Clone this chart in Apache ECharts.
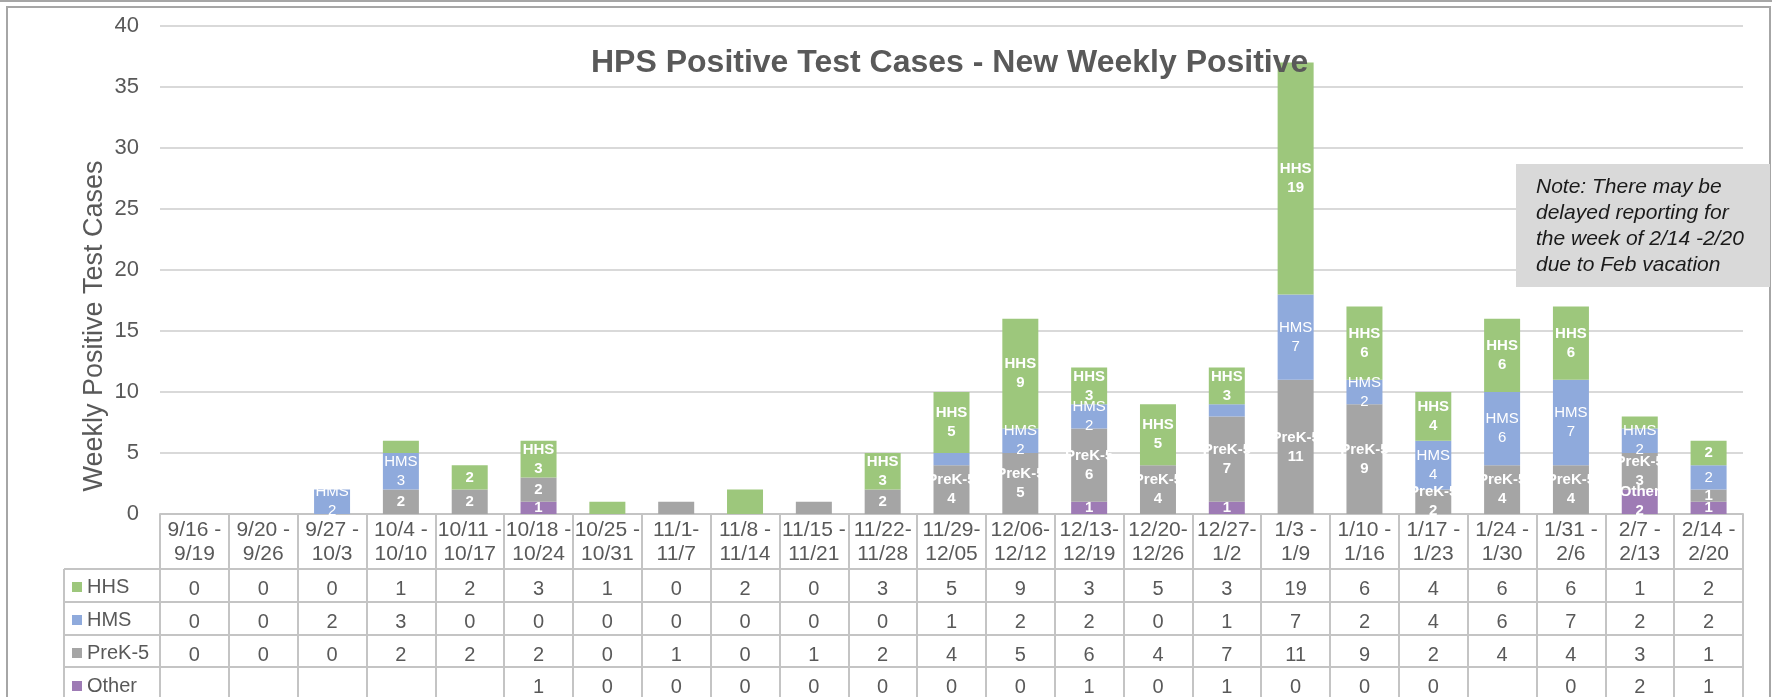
<!DOCTYPE html>
<html>
<head>
<meta charset="utf-8">
<title>HPS Positive Test Cases</title>
<script src="https://cdn.jsdelivr.net/npm/echarts@6/dist/echarts.min.js"></script>
<style>
  html, body { margin: 0; padding: 0; background: #fff; }
  #chart { width: 1781px; height: 697px; }
</style>
</head>
<body>
<div id="chart"></div>
<script>
const weeks = [
  '9/16 -\n9/19', '9/20 -\n9/26', '9/27 -\n10/3', '10/4 -\n10/10', '10/11 -\n10/17',
  '10/18 -\n10/24', '10/25 -\n10/31', '11/1-\n11/7', '11/8 -\n11/14', '11/15 -\n11/21',
  '11/22-\n11/28', '11/29-\n12/05', '12/06-\n12/12', '12/13-\n12/19', '12/20-\n12/26',
  '12/27-\n1/2', '1/3 -\n1/9', '1/10 -\n1/16', '1/17 -\n1/23', '1/24 -\n1/30',
  '1/31 -\n2/6', '2/7 -\n2/13', '2/14 -\n2/20'
];
const hhs   = [0, 0, 0, 1, 2, 3, 1, 0, 2, 0, 3, 5, 9, 3, 5, 3, 19, 6, 4, 6, 6, 1, 2];
const hms   = [0, 0, 2, 3, 0, 0, 0, 0, 0, 0, 0, 1, 2, 2, 0, 1, 7, 2, 4, 6, 7, 2, 2];
const prek  = [0, 0, 0, 2, 2, 2, 0, 1, 0, 1, 2, 4, 5, 6, 4, 7, 11, 9, 2, 4, 4, 3, 1];
const other = [null, null, null, null, null, 1, 0, 0, 0, 0, 0, 0, 0, 1, 0, 1, 0, 0, 0, null, 0, 2, 1];

// which bar segments carry a label: 0 none, 1 value only, 2 series name + value
const hhsTags   = [0, 0, 0, 0, 1, 2, 0, 0, 0, 0, 2, 2, 2, 2, 2, 2, 2, 2, 2, 2, 2, 0, 1];
const hmsTags   = [0, 0, 2, 2, 0, 0, 0, 0, 0, 0, 0, 0, 2, 2, 0, 0, 2, 2, 2, 2, 2, 2, 1];
const prekTags  = [0, 0, 0, 1, 1, 1, 0, 0, 0, 0, 1, 2, 2, 2, 2, 2, 2, 2, 2, 2, 2, 2, 1];
const otherTags = [0, 0, 0, 0, 0, 1, 0, 0, 0, 0, 0, 0, 0, 1, 0, 1, 0, 0, 0, 0, 0, 2, 1];

const rowNames = ['HHS', 'HMS', 'PreK-5', 'Other'];
const yTicks = { min: 0, max: 40, step: 5 };
const chartTitle = 'HPS Positive Test Cases - New Weekly Positive';
const yTitle = 'Weekly Positive Test Cases';
const noteLines = ['Note: There may be', 'delayed reporting for', 'the week of 2/14 -2/20', 'due to Feb vacation'];

const FONT = '"Liberation Sans", Arial, sans-serif';
const TEXT = '#595959';
const LINE = '#C4C4C4';
const COLORS = { HHS: '#9DC77C', HMS: '#8FAADC', 'PreK-5': '#A5A5A5', Other: '#9E7BB5' };

// table rows: top edge offset below the category axis, and row height
const ROW_TOP = 55;
const ROW_H = 32.8;

function rowAxis(values, i) {
  return {
    type: 'category',
    gridIndex: 0,
    position: 'bottom',
    offset: Math.round(ROW_TOP + i * ROW_H),
    data: values.map(v => (v == null ? '' : String(v))),
    axisLine: { show: true, lineStyle: { color: LINE, width: 2 } },
    axisTick: { show: false },
    axisLabel: { interval: 0, margin: 10, fontSize: 20, color: TEXT, fontFamily: FONT },
    splitLine: { show: false }
  };
}

function rowLegend(name, i) {
  return {
    orient: 'vertical',
    left: 72,
    top: Math.round(514 + ROW_TOP + i * ROW_H + ROW_H / 2 - 8),
    padding: 0,
    itemWidth: 10,
    itemHeight: 10,
    icon: 'rect',
    selectedMode: false,
    data: [name],
    textStyle: { fontSize: 20, color: TEXT, fontFamily: FONT }
  };
}

function segLabel(tags, bold) {
  return {
    show: true,
    position: 'inside',
    color: '#fff',
    fontSize: 15,
    lineHeight: 19,
    fontWeight: bold ? 'bold' : 'normal',
    fontFamily: FONT,
    formatter: p => {
      const t = tags[p.dataIndex];
      if (!t) return '';
      return t === 2 ? p.seriesName + '\n' + p.value : String(p.value);
    }
  };
}

function barSeries(name, values, tags, bold) {
  return {
    name: name,
    type: 'bar',
    stack: 'total',
    barWidth: 36,
    data: values,
    itemStyle: { color: COLORS[name] },
    label: segLabel(tags, bold),
    emphasis: { disabled: true }
  };
}

const leftColLines = [0, 1, 2, 3].map(i => {
  const y = Math.round(514 + ROW_TOP + i * ROW_H);
  return { type: 'line', silent: true, shape: { x1: 64, y1: y, x2: 160, y2: y }, style: { stroke: LINE, lineWidth: 2 } };
});

const chart = echarts.init(document.getElementById('chart'));
chart.setOption({
  animation: false,
  textStyle: { fontFamily: FONT },
  title: {
    text: chartTitle,
    left: 586,
    top: 42,
    textStyle: { fontSize: 32, fontWeight: 'bold', color: TEXT, fontFamily: FONT }
  },
  legend: rowNames.map(rowLegend),
  grid: { left: 160, right: 38, top: 26, bottom: 183, containLabel: false, outerBoundsMode: 'none' },
  xAxis: [
    {
      type: 'category',
      data: weeks,
      axisLine: { show: true, lineStyle: { color: LINE, width: 2 } },
      axisTick: { show: true, interval: 0, length: 190, lineStyle: { color: LINE, width: 2 } },
      axisLabel: { interval: 0, margin: 4, fontSize: 21, lineHeight: 24, color: TEXT, fontFamily: FONT },
      splitLine: { show: false }
    },
    rowAxis(hhs, 0),
    rowAxis(hms, 1),
    rowAxis(prek, 2),
    rowAxis(other, 3)
  ],
  yAxis: {
    type: 'value',
    min: yTicks.min,
    max: yTicks.max,
    interval: yTicks.step,
    axisLine: { show: false },
    axisTick: { show: false },
    axisLabel: { margin: 21, fontSize: 22, color: TEXT, fontFamily: FONT },
    splitLine: { lineStyle: { color: '#D9D9D9', width: 2 } }
  },
  series: [
    barSeries('Other', other, otherTags, true),
    barSeries('PreK-5', prek, prekTags, true),
    barSeries('HMS', hms, hmsTags, false),
    barSeries('HHS', hhs, hhsTags, true)
  ],
  graphic: [
    // chart frame
    { type: 'line', silent: true, z: -1, shape: { x1: 0, y1: 1, x2: 1772, y2: 1 }, style: { stroke: '#A6A6A6', lineWidth: 2 } },
    { type: 'rect', silent: true, z: -1, shape: { x: 7, y: 7, width: 1763, height: 720 }, style: { fill: 'none', stroke: '#A6A6A6', lineWidth: 2 } },
    // left column of the data table
    ...leftColLines,
    { type: 'line', silent: true, shape: { x1: 64, y1: 569, x2: 64, y2: 700 }, style: { stroke: LINE, lineWidth: 2 } },
    // y axis title
    {
      type: 'text', silent: true, x: 95, y: 326, rotation: Math.PI / 2,
      style: { text: yTitle, fontSize: 27, fill: TEXT, fontFamily: FONT, align: 'center', verticalAlign: 'middle' }
    },
    // note box
    { type: 'rect', silent: true, z: 5, shape: { x: 1516, y: 164, width: 254, height: 123 }, style: { fill: '#D9D9D9' } },
    {
      type: 'text', silent: true, z: 6, x: 1536, y: 226,
      style: {
        text: noteLines.join('\n'), fontSize: 21, lineHeight: 26, fontStyle: 'italic',
        fill: '#1a1a1a', fontFamily: FONT, align: 'left', verticalAlign: 'middle'
      }
    }
  ]
});
</script>
</body>
</html>
